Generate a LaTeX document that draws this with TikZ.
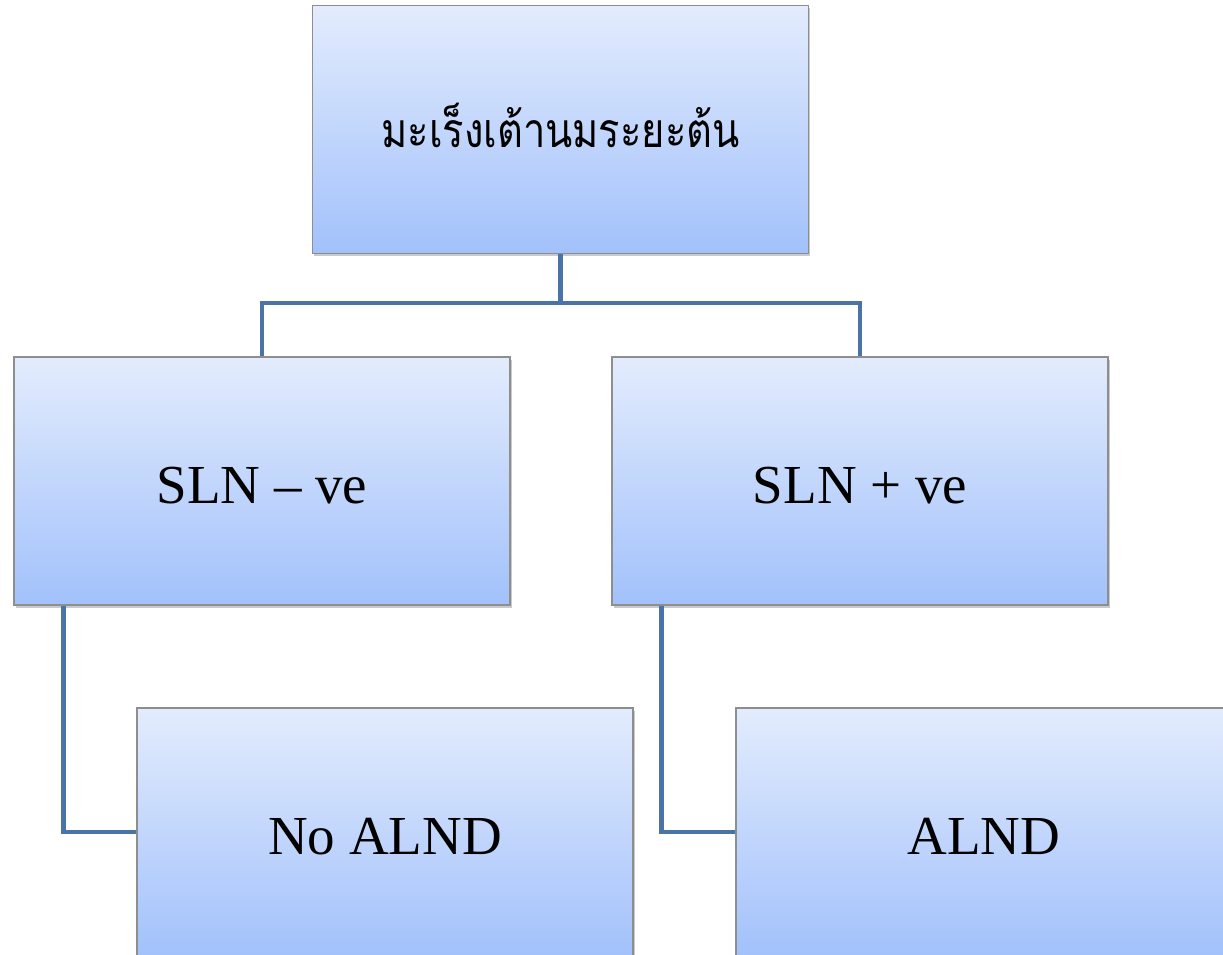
\documentclass[tikz,border=0pt]{standalone}
\usepackage{fontspec}
\setmainfont{Liberation Serif}
\newfontfamily\thaifont[Script=Thai]{Loma}
\usetikzlibrary{shadows}
\definecolor{boxtop}{HTML}{E3ECFD}
\definecolor{boxbot}{HTML}{A2C1FB}
\definecolor{boxline}{HTML}{8E8E8E}
\definecolor{linkcol}{HTML}{4A74A8}
\tikzset{
  card/.style={rectangle, draw=boxline, line width=1.2pt,
    top color=boxtop, bottom color=boxbot,
    minimum width=496pt, minimum height=248pt, inner sep=0pt,
    text height=45pt, text depth=0pt,
    drop shadow={shadow xshift=1.5pt, shadow yshift=-2.5pt, opacity=0.35, fill=black!60},
    font=\fontsize{55}{60}\selectfont},
  thaicard/.style={card, text height=36pt, font=\thaifont\fontsize{48}{54}\selectfont},
  link/.style={draw=linkcol, line width=4.5pt, line join=miter},
}
\begin{document}
\begin{tikzpicture}[x=1pt,y=-1pt]
  \useasboundingbox (0,0) rectangle (1223,954);
  \clip (0,0) rectangle (1223,954);
  \node[thaicard] (top) at (560.5,129.5) {\scalebox{0.83}[1]{มะเร็งเต้านมระยะต้น}};
  \node[card] (neg)    at (262,481)  {SLN – ve};
  \node[card] (pos)    at (860,481)  {SLN + ve};
  \node[card] (noalnd) at (385,832)  {No ALND};
  \node[card] (alnd)   at (984,832)  {ALND};
  \draw[link] (top.south) -- ++(0,49) -| (neg.north);
  \draw[link] (top.south) -- ++(0,49) -| (pos.north);
  \draw[link] ([xshift=50pt]neg.south west) |- (noalnd.west);
  \draw[link] ([xshift=50pt]pos.south west) |- (alnd.west);
\end{tikzpicture}
\end{document}
